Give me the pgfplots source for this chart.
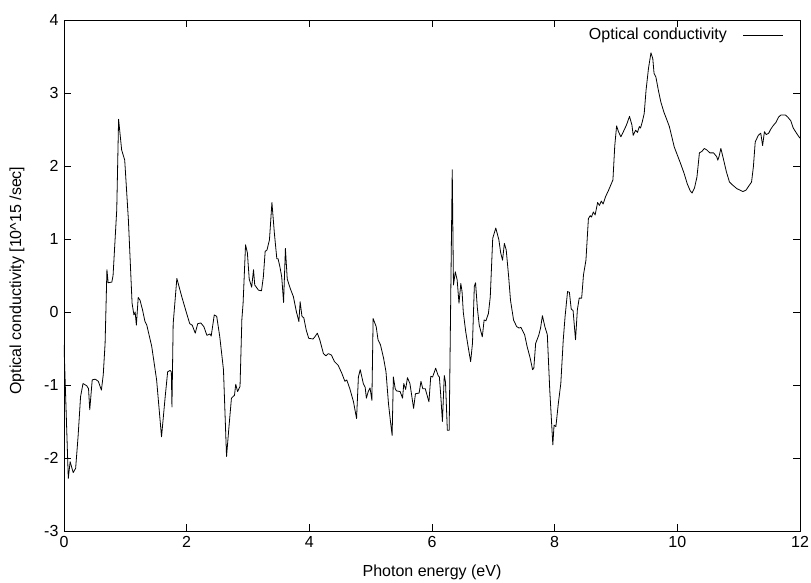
\documentclass[border=0pt]{standalone}
\usepackage{fontspec}
\setmainfont{Liberation Sans}
\usepackage{pgfplots}
\pgfplotsset{compat=1.18}
\begin{document}
\fontsize{16}{19}\selectfont
\begin{tikzpicture}
\path[use as bounding box] (-64pt,-51pt) rectangle (747pt,531pt);
\begin{axis}[
  at={(0,0)}, anchor=south west,
  scale only axis, width=736pt, height=511pt,
  xmin=0, xmax=12, ymin=-3, ymax=4,
  xtick={0,2,...,12}, ytick={-3,-2,...,4},
  tick align=inside, major tick length=7pt,
  axis line style={line width=0.8pt}, every tick/.style={line width=0.8pt, black},
  /pgf/number format/assume math mode=true,
  xlabel={Photon energy (eV)},
  ylabel={Optical conductivity [10\textasciicircum 15 /sec]},
  xlabel style={at={(axis description cs:0.5,-0.080)}, anchor=center},
  ylabel style={at={(axis description cs:-0.064,0.49)}, anchor=center},
  legend plot pos=right,
  legend style={draw=none, fill=none, at={(0.978,0.9706)}, anchor=east,
    inner sep=0pt},
  legend image code/.code={\path (0pt,0pt); \draw[#1] (14pt,0pt) -- (54pt,0pt);},
]
\addplot[black, line width=0.8pt, line join=round] coordinates {
(0.00,-0.45)(0.07,-2.28)(0.10,-2.05)(0.15,-2.20)(0.19,-2.14)(0.23,-1.70)(0.27,-1.16)
(0.31,-0.98)(0.37,-1.01)(0.40,-1.05)(0.42,-1.34)(0.46,-0.93)(0.51,-0.92)(0.56,-0.95)
(0.61,-1.07)(0.64,-0.86)(0.67,-0.43)(0.70,0.58)(0.72,0.40)(0.78,0.41)(0.80,0.50)
(0.83,0.95)(0.86,1.40)(0.89,2.64)(0.94,2.22)(0.99,2.08)(1.05,1.26)(1.11,0.12)
(1.14,-0.04)(1.16,0.00)(1.18,-0.18)(1.21,0.20)(1.24,0.16)(1.28,0.03)(1.32,-0.13)
(1.35,-0.18)(1.43,-0.47)(1.51,-0.93)(1.59,-1.71)(1.65,-1.16)(1.69,-0.82)(1.73,-0.80)
(1.75,-0.82)(1.76,-1.30)(1.78,-0.16)(1.84,0.46)(1.92,0.21)(2.00,-0.02)(2.05,-0.16)
(2.09,-0.18)(2.14,-0.29)(2.18,-0.16)(2.23,-0.15)(2.28,-0.20)(2.33,-0.32)(2.38,-0.30)
(2.40,-0.33)(2.45,-0.04)(2.49,-0.06)(2.54,-0.34)(2.60,-0.79)(2.65,-1.98)(2.69,-1.57)
(2.73,-1.18)(2.78,-1.14)(2.80,-0.99)(2.83,-1.09)(2.87,-1.02)(2.90,-0.10)(2.92,0.12)
(2.96,0.92)(2.99,0.81)(3.02,0.45)(3.06,0.34)(3.09,0.58)(3.11,0.37)(3.17,0.30)
(3.22,0.29)(3.25,0.48)(3.28,0.83)(3.31,0.85)(3.35,0.99)(3.39,1.50)(3.43,1.08)
(3.47,0.73)(3.49,0.73)(3.52,0.62)(3.55,0.48)(3.58,0.13)(3.61,0.87)(3.64,0.45)
(3.69,0.32)(3.74,0.21)(3.79,0.00)(3.83,-0.13)(3.85,0.14)(3.88,-0.06)(3.91,-0.08)
(3.95,-0.25)(3.99,-0.36)(4.06,-0.37)(4.09,-0.34)(4.13,-0.29)(4.17,-0.38)(4.23,-0.57)
(4.27,-0.60)(4.31,-0.57)(4.36,-0.59)(4.41,-0.68)(4.47,-0.73)(4.53,-0.84)(4.58,-0.95)
(4.61,-0.93)(4.66,-1.05)(4.72,-1.23)(4.77,-1.46)(4.80,-0.89)(4.83,-0.79)(4.88,-0.98)
(4.91,-1.03)(4.93,-1.18)(4.96,-1.09)(4.99,-1.04)(5.02,-1.21)(5.04,-0.09)(5.09,-0.20)
(5.12,-0.38)(5.16,-0.45)(5.21,-0.63)(5.25,-0.82)(5.29,-1.25)(5.32,-1.48)(5.35,-1.69)
(5.37,-0.89)(5.40,-1.05)(5.42,-1.08)(5.48,-1.09)(5.52,-1.18)(5.54,-0.98)(5.57,-1.06)
(5.60,-0.90)(5.64,-0.98)(5.70,-1.32)(5.73,-1.12)(5.79,-1.11)(5.82,-0.95)(5.85,-1.05)
(5.89,-1.05)(5.91,-1.11)(5.95,-1.23)(5.98,-0.88)(6.01,-0.89)(6.06,-0.77)(6.10,-0.87)
(6.12,-0.89)(6.14,-1.11)(6.17,-1.50)(6.20,-0.87)(6.22,-0.96)(6.25,-1.62)(6.28,-1.62)
(6.33,1.95)(6.35,0.37)(6.38,0.55)(6.41,0.44)(6.44,0.12)(6.47,0.39)(6.49,0.28)
(6.51,0.00)(6.55,-0.27)(6.59,-0.48)(6.63,-0.68)(6.66,-0.43)(6.69,0.35)(6.71,0.40)
(6.74,0.05)(6.77,-0.18)(6.82,-0.34)(6.85,-0.11)(6.88,-0.12)(6.92,-0.02)(6.95,0.21)
(6.99,1.01)(7.04,1.15)(7.09,0.99)(7.12,0.81)(7.15,0.71)(7.18,0.94)(7.21,0.85)
(7.25,0.48)(7.28,0.16)(7.33,-0.11)(7.38,-0.20)(7.42,-0.22)(7.45,-0.21)(7.51,-0.31)
(7.55,-0.47)(7.60,-0.63)(7.64,-0.79)(7.66,-0.77)(7.69,-0.43)(7.74,-0.32)(7.77,-0.22)
(7.80,-0.05)(7.84,-0.20)(7.88,-0.31)(7.92,-1.07)(7.97,-1.82)(7.99,-1.55)(8.02,-1.57)
(8.06,-1.25)(8.10,-0.98)(8.14,-0.38)(8.17,-0.06)(8.21,0.28)(8.24,0.27)(8.27,0.04)
(8.30,0.02)(8.34,-0.38)(8.37,0.03)(8.40,0.19)(8.44,0.19)(8.47,0.51)(8.51,0.71)
(8.55,1.28)(8.58,1.32)(8.60,1.30)(8.63,1.37)(8.66,1.33)(8.70,1.50)(8.73,1.46)
(8.76,1.52)(8.79,1.48)(8.83,1.58)(8.88,1.67)(8.95,1.81)(8.98,2.28)(9.01,2.55)
(9.04,2.47)(9.08,2.40)(9.12,2.47)(9.17,2.56)(9.22,2.68)(9.26,2.56)(9.28,2.42)
(9.32,2.49)(9.35,2.46)(9.38,2.54)(9.40,2.52)(9.43,2.61)(9.46,2.72)(9.49,3.04)
(9.53,3.34)(9.57,3.55)(9.60,3.47)(9.62,3.27)(9.65,3.22)(9.69,3.04)(9.73,2.88)
(9.78,2.74)(9.83,2.63)(9.87,2.54)(9.91,2.40)(9.95,2.26)(10.00,2.15)(10.05,2.04)
(10.11,1.90)(10.16,1.76)(10.21,1.66)(10.24,1.63)(10.28,1.70)(10.32,1.85)(10.36,2.18)
(10.40,2.20)(10.44,2.24)(10.48,2.22)(10.53,2.18)(10.59,2.18)(10.64,2.13)(10.66,2.08)
(10.68,2.13)(10.71,2.24)(10.75,2.10)(10.80,1.92)(10.85,1.78)(10.90,1.74)(10.97,1.69)
(11.02,1.67)(11.07,1.65)(11.12,1.67)(11.16,1.72)(11.21,1.78)(11.24,1.99)(11.27,2.33)
(11.32,2.42)(11.36,2.45)(11.39,2.28)(11.42,2.47)(11.45,2.43)(11.49,2.45)(11.52,2.50)
(11.56,2.55)(11.61,2.60)(11.65,2.67)(11.69,2.70)(11.76,2.70)(11.80,2.67)(11.85,2.62)
(11.89,2.52)(11.95,2.44)(12.00,2.38)
};
\addlegendentry{Optical conductivity}
\end{axis}
\end{tikzpicture}
\end{document}
